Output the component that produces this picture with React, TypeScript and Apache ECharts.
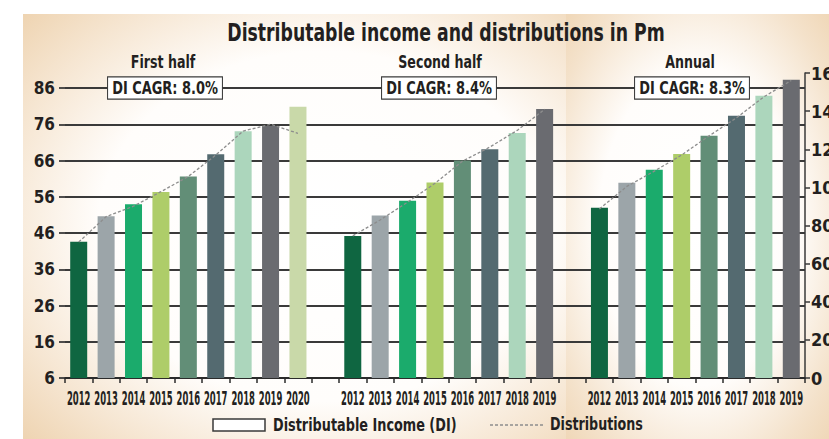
import React, { useEffect, useRef } from "react";
import * as echarts from "echarts";

const categories: string[] = [
  "2012", "2013", "2014", "2015", "2016", "2017", "2018", "2019", "2020", "",
  "2012", "2013", "2014", "2015", "2016", "2017", "2018", "2019", "",
  "2012", "2013", "2014", "2015", "2016", "2017", "2018", "2019",
];

const firstHalfDI = [43.6, 50.6, 53.9, 57.3, 61.6, 67.7, 74.1, 75.5, 80.8];
const secondHalfDI = [45.2, 50.8, 54.9, 59.9, 66.0, 69.1, 73.6, 80.2];
const annualDI = [89.3, 102.4, 109.3, 117.5, 127.1, 137.6, 148.1, 156.5];

const firstHalfDist = [43.5, 50.5, 53.4, 57.4, 61.6, 67.5, 74.1, 76.0, 73.5];
const secondHalfDist = [45.2, 49.6, 54.5, 59.7, 65.8, 69.7, 74.3, 80.1];
const annualDist = [88.7, 100.5, 108.5, 117.0, 127.0, 136.5, 147.5, 156.1];

const yearColors = [
  "#0f6641", "#9ca5a9", "#1bab6c", "#aecd69", "#628e77",
  "#546a70", "#acd6bc", "#6a6b70", "#c9d9a9",
];

const leftTicks = { min: 6, max: 86, interval: 10 };
const rightTicks = { min: 0, max: 160, interval: 20 };

const cagrLabels = ["DI CAGR: 8.0%", "DI CAGR: 8.4%", "DI CAGR: 8.3%"];
const panelTitles = ["First half", "Second half", "Annual"];
const legendNames = ["Distributable Income (DI)", "Distributions"];
const chartTitle = "Distributable income and distributions in Pm";

const FONT = "'DejaVu Sans Condensed', 'DejaVu Sans', sans-serif";
const TXT = "#231f20";
const DASH = "#8d8d8d";

function place(values: number[], offset: number, total: number) {
  const arr: (number | null)[] = new Array(total).fill(null);
  values.forEach((v, i) => (arr[offset + i] = v));
  return arr;
}

function coloredBars(values: number[], offset: number, total: number) {
  const arr: any[] = new Array(total).fill(null);
  values.forEach((v, i) => {
    arr[offset + i] = { value: v, itemStyle: { color: yearColors[i] } };
  });
  return arr;
}

export default function App() {
  const ref = useRef<HTMLDivElement>(null);
  useEffect(() => {
    document.body.style.margin = "0";
    const chart = echarts.init(ref.current!, undefined, { renderer: "svg" });
    const n = categories.length;
    const halvesBars = coloredBars(firstHalfDI, 0, n);
    coloredBars(secondHalfDI, 10, n).forEach((d, i) => { if (d) halvesBars[i] = d; });
    const annualBars = coloredBars(annualDI, 19, n);
    const halvesLine = place(firstHalfDist, 0, n);
    place(secondHalfDist, 10, n).forEach((d, i) => { if (d != null) halvesLine[i] = d; });
    const annualLine = place(annualDist, 19, n);

    const lineStyle = { color: DASH, width: 1.3, type: [3, 2] as any };
    const beige = "#eed3b0";

    const text = (id: string, x: number, y: number, label: string, size: number, sx: number, extra: any = {}) => ({
      id,
      type: "text",
      x,
      y,
      z: 100,
      scaleX: sx,
      style: {
        text: label,
        font: `bold ${size}px ${FONT}`,
        fill: TXT,
        align: "center",
        verticalAlign: "middle",
        ...extra,
      },
    });

    const box = (id: string, cx: number, label: string) =>
      text(id, cx, 88, label, 18, 0.8, {
        backgroundColor: "#ffffff",
        borderColor: "#3a3a3a",
        borderWidth: 1.3,
        padding: [2, 5, 1, 5],
      });

    const baseGraphic: any[] = [
      {
        id: "bg1",
        type: "rect",
        z: -10,
        shape: { x: 23, y: 14, width: 547, height: 425 },
        style: {
          fill: {
            type: "radial", x: 0.55, y: 0.5, r: 0.75,
            colorStops: [
              { offset: 0, color: "#ffffff" },
              { offset: 0.55, color: "#fffdfb" },
              { offset: 0.8, color: "#f6e6d2" },
              { offset: 1, color: beige },
            ],
          },
        },
      },
      {
        id: "bg2",
        type: "rect",
        z: -10,
        shape: { x: 566, y: 14, width: 263, height: 425 },
        style: {
          fill: {
            type: "radial", x: 0.5, y: 0.5, r: 0.75,
            colorStops: [
              { offset: 0, color: "#ffffff" },
              { offset: 0.5, color: "#fffdfb" },
              { offset: 0.8, color: "#f4e2cb" },
              { offset: 1, color: beige },
            ],
          },
        },
      },
      text("title", 446, 33, chartTitle, 24, 0.8),
      text("sub0", 163, 62, panelTitles[0], 18, 0.78),
      text("sub1", 440, 62, panelTitles[1], 18, 0.78),
      text("sub2", 690, 62, panelTitles[2], 18, 0.78),
      box("box0", 165, cagrLabels[0]),
      box("box1", 439, cagrLabels[1]),
      box("box2", 692, cagrLabels[2]),
      {
        id: "legRect",
        type: "rect",
        z: 100,
        shape: { x: 213, y: 419, width: 52, height: 12 },
        style: { fill: "#ffffff", stroke: "#3a3a3a", lineWidth: 1.5 },
      },
      text("legText0", 273, 425, legendNames[0], 17, 0.84, { align: "left" }),
      {
        id: "legLine",
        type: "line",
        z: 100,
        shape: { x1: 490, y1: 425, x2: 545, y2: 425 },
        style: { stroke: DASH, lineWidth: 1.3, lineDash: [3, 2] },
      },
      text("legText1", 550, 425, legendNames[1], 17, 0.83, { align: "left" }),
    ];

    chart.setOption({
      animation: false,
      backgroundColor: "#ffffff",
      graphic: baseGraphic,
      grid: [
        { left: 65, right: 24, top: 88, bottom: 61, containLabel: false, outerBoundsMode: "none" },
        { left: 65, right: 24, top: 73, bottom: 61, containLabel: false, outerBoundsMode: "none" },
      ],
      xAxis: [
        {
          type: "category",
          gridIndex: 0,
          data: categories,
          axisLine: { lineStyle: { color: "#2b2b2b", width: 1.8 } },
          axisTick: { show: true, length: 5, lineStyle: { color: "#2b2b2b", width: 1.5 } },
          axisLabel: { show: false, interval: 0 },
        },
        {
          type: "category",
          gridIndex: 1,
          data: categories,
          show: false,
        },
      ],
      yAxis: [
        {
          type: "value",
          gridIndex: 0,
          position: "left",
          ...leftTicks,
          axisLine: { show: false },
          axisTick: { show: true, length: 6, lineStyle: { color: "#3a3a3a", width: 1.8 } },
          axisLabel: {
            margin: 10,
            fontFamily: FONT,
            fontWeight: "bold",
            fontSize: 17,
            color: TXT,
          },
          splitLine: { show: true, lineStyle: { color: "#3a3a3a", width: 1.8 } },
        },
        {
          type: "value",
          gridIndex: 1,
          position: "right",
          ...rightTicks,
          axisLine: { show: true, lineStyle: { color: "#3a3a3a", width: 1.5 } },
          axisTick: { show: true, length: 5, lineStyle: { color: "#3a3a3a", width: 1.5 } },
          axisLabel: {
            margin: 6,
            fontFamily: FONT,
            fontWeight: "bold",
            fontSize: 18,
            color: TXT,
          },
          splitLine: { show: false },
        },
      ],
      series: [
        {
          name: legendNames[0],
          type: "bar",
          xAxisIndex: 0,
          yAxisIndex: 0,
          barWidth: 17,
          data: halvesBars,
          z: 3,
        },
        {
          name: legendNames[0],
          type: "bar",
          xAxisIndex: 1,
          yAxisIndex: 1,
          barWidth: 17,
          data: annualBars,
          z: 3,
        },
        {
          name: legendNames[1],
          type: "line",
          xAxisIndex: 0,
          yAxisIndex: 0,
          data: halvesLine,
          symbol: "none",
          connectNulls: false,
          lineStyle,
          itemStyle: { color: DASH },
          z: 5,
        },
        {
          name: legendNames[1],
          type: "line",
          xAxisIndex: 1,
          yAxisIndex: 1,
          data: annualLine,
          symbol: "none",
          connectNulls: false,
          lineStyle,
          itemStyle: { color: DASH },
          z: 5,
        },
      ],
    });

    // Year labels placed through the category axis scale, condensed horizontally.
    const yearLabels: any[] = [];
    categories.forEach((c, i) => {
      if (!c) return;
      const p = chart.convertToPixel({ gridIndex: 0 }, [i, leftTicks.min]) as number[];
      yearLabels.push(text("year" + i, p[0], p[1] + 21, c, 20, 0.47));
    });
    chart.setOption({ graphic: [...baseGraphic, ...yearLabels] });

    return () => chart.dispose();
  }, []);
  return (
    <div
      ref={ref}
      style={{ position: "absolute", left: 0, top: 0, width: 829, height: 439 }}
    />
  );
}
